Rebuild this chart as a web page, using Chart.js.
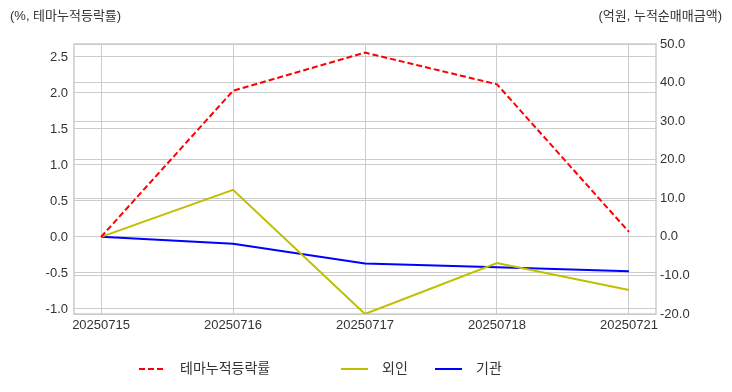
<!DOCTYPE html>
<html>
<head>
<meta charset="utf-8">
<script src="https://cdn.jsdelivr.net/npm/chart.js@4.4.1/dist/chart.umd.min.js"></script>
<style>
  html, body { margin: 0; padding: 0; background: #fff; }
  #wrap { width: 732px; height: 392px; position: relative; }
</style>
</head>
<body>
<div id="wrap"><canvas id="chart" width="732" height="392"></canvas></div>
<script>
// dates on the x axis
const dates = ['20250715', '20250716', '20250717', '20250718', '20250721'];
// left axis (%)
const themeReturn = [0.0, 2.03, 2.56, 2.12, 0.07];
// right axis (억원)
const foreign = [0.0, 12.2, -20.0, -6.8, -13.8];
const institution = [0.0, -1.8, -6.9, -7.9, -8.9];

const leftTicks = [-1.0, -0.5, 0.0, 0.5, 1.0, 1.5, 2.0, 2.5];
const rightTicks = [-20, -10, 0, 10, 20, 30, 40, 50];

const FONT = '"Liberation Sans", "Noto Sans CJK KR", sans-serif';
const TXT = '#333333';
const GRID = '#cccccc';

const toPoints = arr => arr.map((v, i) => ({ x: i, y: v }));

// frame around plot area + axis captions + legend
const extras = {
    id: 'extras',
    beforeDatasetsDraw(chart) {
        const { ctx, chartArea: a } = chart;
        ctx.save();
        ctx.strokeStyle = GRID;
        ctx.lineWidth = 1.5;
        ctx.strokeRect(a.left, a.top, a.right - a.left, a.bottom - a.top);
        ctx.restore();
    },
    afterDraw(chart) {
        const ctx = chart.ctx;
        ctx.save();
        ctx.font = '13px ' + FONT;
        ctx.fillStyle = TXT;
        ctx.textBaseline = 'middle';
        ctx.textAlign = 'left';
        ctx.fillText('(%, 테마누적등락률)', 10, 16);
        ctx.textAlign = 'right';
        ctx.fillText('(억원, 누적순매매금액)', 722, 16);

        // legend
        const items = [
            { ds: 0, x: 139 },
            { ds: 1, x: 341 },
            { ds: 2, x: 435 }
        ];
        const y = 369;
        ctx.font = '14px ' + FONT;
        ctx.textAlign = 'left';
        items.forEach(it => {
            const ds = chart.data.datasets[it.ds];
            ctx.beginPath();
            ctx.strokeStyle = ds.borderColor;
            ctx.lineWidth = 2;
            ctx.setLineDash(ds.borderDash || []);
            ctx.moveTo(it.x, y);
            ctx.lineTo(it.x + 27, y);
            ctx.stroke();
            ctx.setLineDash([]);
            ctx.fillStyle = TXT;
            ctx.fillText(ds.label, it.x + 41, y);
        });
        ctx.restore();
    }
};

new Chart(document.getElementById('chart'), {
    type: 'line',
    data: {
        datasets: [
            {
                label: '테마누적등락률',
                data: toPoints(themeReturn),
                yAxisID: 'y',
                borderColor: '#ff0000',
                borderDash: [6, 3],
                borderWidth: 2,
                pointRadius: 0,
                tension: 0
            },
            {
                label: '외인',
                data: toPoints(foreign),
                yAxisID: 'y1',
                borderColor: '#bfbf00',
                borderWidth: 2,
                pointRadius: 0,
                tension: 0
            },
            {
                label: '기관',
                data: toPoints(institution),
                yAxisID: 'y1',
                borderColor: '#0000ff',
                borderWidth: 2,
                pointRadius: 0,
                tension: 0
            }
        ]
    },
    options: {
        responsive: false,
        animation: false,
        layout: { padding: { top: 44, bottom: 54, left: 0, right: 0 } },
        plugins: {
            legend: { display: false },
            tooltip: { enabled: false }
        },
        scales: {
            x: {
                type: 'linear',
                min: -0.205,
                max: 4.205,
                afterBuildTicks: s => { s.ticks = dates.map((d, i) => ({ value: i })); },
                afterFit: s => { s.height = 24; },
                grid: { color: GRID, drawTicks: false, lineWidth: 1 },
                border: { display: false },
                ticks: {
                    color: TXT,
                    font: { family: FONT, size: 13 },
                    padding: 4,
                    maxRotation: 0,
                    autoSkip: false,
                    callback: v => dates[v]
                }
            },
            y: {
                position: 'left',
                min: -1.07,
                max: 2.68,
                afterBuildTicks: s => { s.ticks = leftTicks.map(v => ({ value: v })); },
                afterFit: s => { s.width = 74; },
                grid: { color: GRID, drawTicks: false, lineWidth: 1 },
                border: { display: false },
                ticks: {
                    color: TXT,
                    font: { family: FONT, size: 13 },
                    padding: 6,
                    callback: v => v.toFixed(1)
                }
            },
            y1: {
                position: 'right',
                min: -20,
                max: 50,
                afterBuildTicks: s => { s.ticks = rightTicks.map(v => ({ value: v })); },
                afterFit: s => { s.width = 76; },
                grid: { color: GRID, drawTicks: false, lineWidth: 1 },
                border: { display: false },
                ticks: {
                    color: TXT,
                    font: { family: FONT, size: 13 },
                    padding: 4,
                    callback: v => v.toFixed(1)
                }
            }
        }
    },
    plugins: [extras]
});
</script>
</body>
</html>
